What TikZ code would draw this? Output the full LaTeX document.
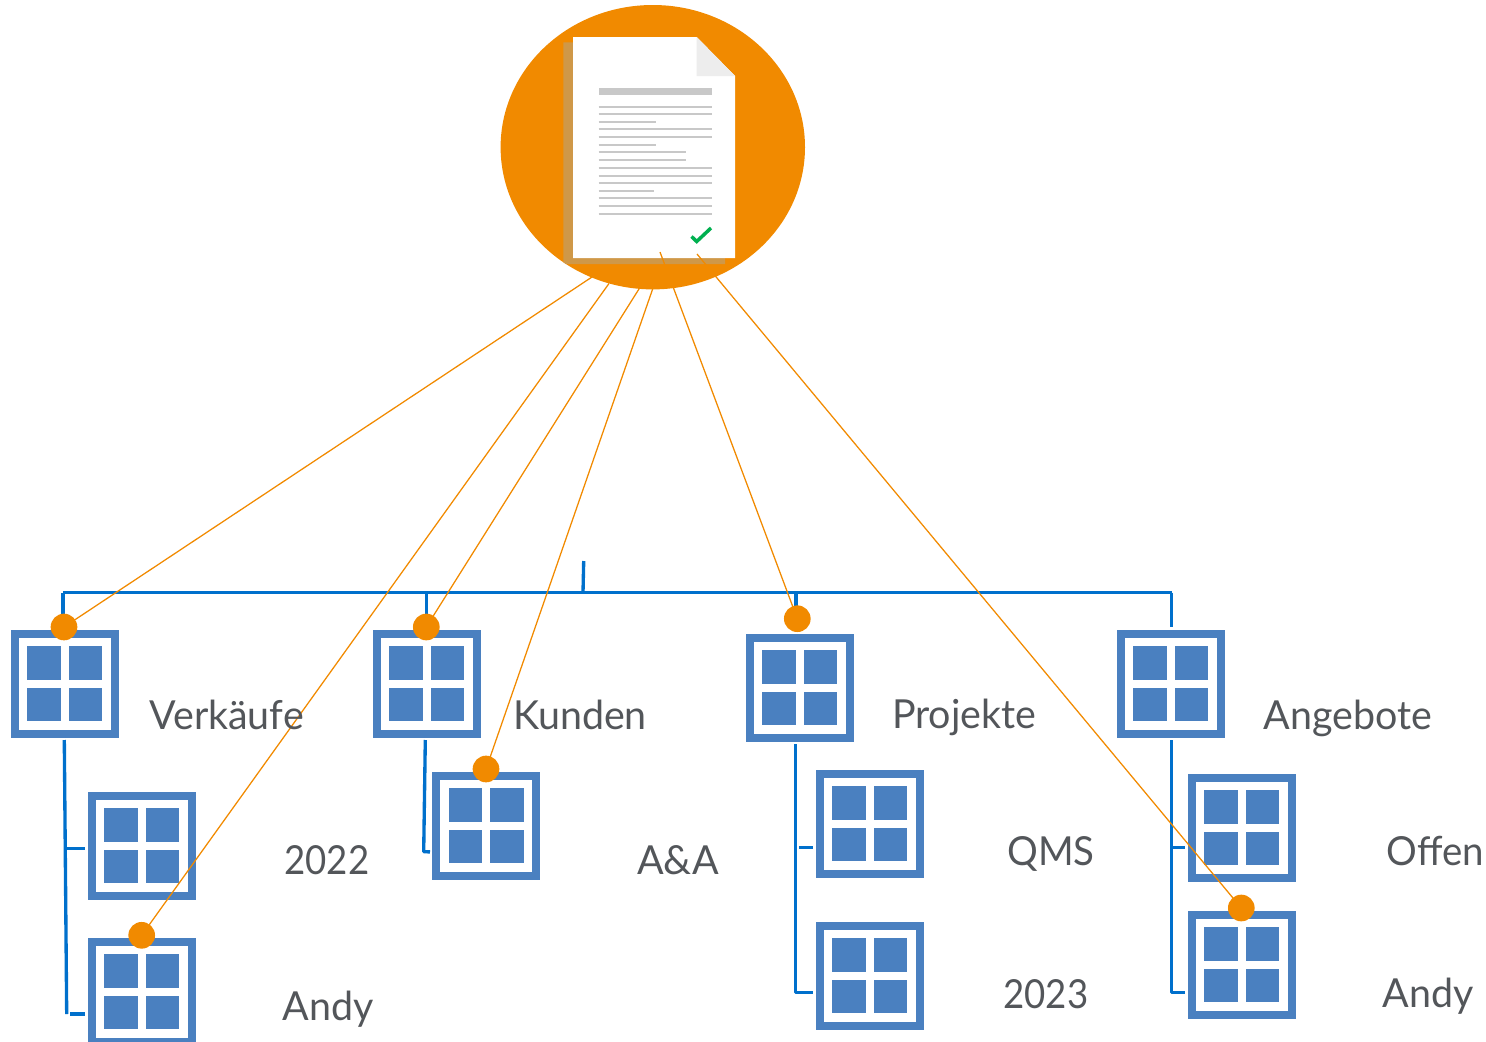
\documentclass[tikz,border=0pt]{standalone}
\usepackage{fontspec}
\usetikzlibrary{shapes.geometric}
\setmainfont[FakeStretch=0.985]{Lato}
\newfontfamily\digitfont[FakeStretch=0.915]{Lato}
\newfontfamily\narrowfont[FakeStretch=0.96]{Lato}
\definecolor{circ}{HTML}{F18A00}
\definecolor{tanband}{HTML}{CF9848}
\definecolor{iconblue}{HTML}{4A80C0}
\definecolor{treeblue}{HTML}{0070CC}
\definecolor{txt}{HTML}{53565A}
\definecolor{docline}{HTML}{C8C8C8}
\definecolor{foldgrey}{HTML}{EDEDED}
\definecolor{okgreen}{HTML}{00B050}
\tikzset{
  iconbox/.style={draw=iconblue,fill=white,line width=6pt,minimum size=75pt,inner sep=0pt,outer sep=0pt,shape=rectangle},
  dotnode/.style={circle,fill=circ,minimum size=20pt,inner sep=0pt,outer sep=0pt},
  lbl/.style={anchor=base west,inner sep=0pt,outer sep=0pt,text=txt,font=\fontsize{30pt}{32pt}\selectfont},
  treeline/.style={draw=treeblue,line width=2.5pt,line join=round},
  linkline/.style={draw=circ,line width=0.95pt},
  docrule/.style={draw=docline,line width=1.7pt}
}
\newcommand{\iconat}[3]{%
  \node[iconbox] (#1) at (#2+54,#3+54) {};
  \foreach \sx in {-37.3,4} \foreach \sy in {-37.3,4}
    \fill[iconblue] ([shift={(\sx,\sy)}]#1.center) rectangle ([shift={(\sx+33.3,\sy+33.3)}]#1.center);
}
\begin{document}
\begin{tikzpicture}[x=0.75pt,y=-0.75pt]
\clip (0,0) rectangle (1486,1042);
% document emblem
\node[ellipse,fill=circ,minimum width=228.3pt,minimum height=213.3pt,inner sep=0pt,outer sep=0pt] (hub) at (652.8,147.2) {};
\begin{scope}
  \clip (652.8,147.2) ellipse [x radius=152.2,y radius=142.2];
  \fill[tanband] (563.3,42.3) -- (686.7,42.3) -- (725,81.3) -- (725,264) -- (563.3,264) -- cycle;
\end{scope}
\fill[white] (573,37) -- (696.7,37) -- (735,76) -- (735,258) -- (573,258) -- cycle;
\fill[foldgrey] (696.7,37) -- (735,76) -- (696.7,76) -- cycle;
\fill[docline] (598.7,87.7) rectangle (711.7,95);
\foreach \ly/\lx in {106.7/712,114/712,122/655.7,129.3/712,137/712,145/655.7,152.3/686,160.3/686,168/712,175.7/712,183/712,190.7/654,198.3/712,206/712,214.3/712}
  \draw[docrule] (598.7,\ly) -- (\lx,\ly);
\draw[okgreen,line width=2.6pt] (691.5,236.5) -- (696.7,241.5) -- (711,228);
% tables
\iconat{verk}{10.7}{629.5}
\iconat{y22}{87.7}{791.5}
\iconat{andyA}{87.7}{937.7}
\iconat{kund}{372.7}{629.7}
\iconat{aa}{432.2}{771.7}
\iconat{proj}{745.5}{633.7}
\iconat{qms}{815.5}{769.7}
\iconat{y23}{815.5}{921.7}
\iconat{ang}{1116.7}{629.7}
\iconat{off}{1187.7}{773.7}
\iconat{andyB}{1187.7}{910.7}
% tree coordinates
\coordinate (busL) at (63,592.7);
\coordinate (busR) at (1171.7,592.7);
\coordinate (stubT) at (583.7,561);
\coordinate (stubB) at (583,592.7);
\coordinate (kundB) at (426.5,592.7);
\coordinate (projB) at (796,592.7);
\coordinate (dropL) at (63,615);
\coordinate (dropK) at (426.5,615);
\coordinate (dropP) at (796,610);
\coordinate (dropA) at (1171.7,627);
\coordinate (vT) at (64.3,740);
\coordinate (vB) at (66.7,1014);
\coordinate (v1a) at (66.7,848.5);
\coordinate (v1b) at (85,848.5);
\coordinate (v2a) at (70,1014);
\coordinate (v2b) at (85,1014);
\coordinate (kT) at (425.3,740);
\coordinate (kB) at (423.7,851.7);
\coordinate (kE) at (430,851.9);
\coordinate (pT) at (795.7,744);
\coordinate (pB) at (795.7,992.3);
\coordinate (pE) at (812.7,992.3);
\coordinate (p1a) at (799.3,847.3);
\coordinate (p1b) at (813,847.3);
\coordinate (aT) at (1171.7,740);
\coordinate (aB) at (1171.7,992.3);
\coordinate (aE) at (1185,992.3);
\coordinate (a1a) at (1173.3,847.3);
\coordinate (a1b) at (1185,847.3);
\draw[treeline] (busL) -- (busR);
\draw[treeline] (stubT) -- (stubB);
\draw[treeline] (busL) -- (dropL);
\draw[treeline] (kundB) -- (dropK);
\draw[treeline] (projB) -- (dropP);
\draw[treeline] (busR) -- (dropA);
\draw[treeline] (vT) -- (vB);
\draw[treeline] (v1a) -- (v1b);
\draw[treeline] (v2a) -- (v2b);
\draw[treeline] (kT) -- (kB) -- (kE);
\draw[treeline] (pT) -- (pB) -- (pE);
\draw[treeline] (p1a) -- (p1b);
\draw[treeline] (aT) -- (aB) -- (aE);
\draw[treeline] (a1a) -- (a1b);
% markers
\node[dotnode] (dV) at (64,627) {};
\node[dotnode] (dK) at (426.3,627) {};
\node[dotnode] (dP) at (797.3,618.7) {};
\node[dotnode] (dA) at (141.7,935.3) {};
\node[dotnode] (dAA) at (486,769) {};
\node[dotnode] (dB) at (1241.3,908) {};
% links
\coordinate (s1) at (592,277);
\coordinate (s2) at (609,283.5);
\coordinate (s3) at (639.6,288);
\coordinate (s4) at (653,288);
\coordinate (s5) at (660,252);
\coordinate (s6) at (697,254);
\draw[linkline] (s1) -- (dV.center);
\draw[linkline] (s2) -- (dA.center);
\draw[linkline] (s3) -- (dK.center);
\draw[linkline] (s4) -- (dAA.center);
\draw[linkline] (s5) -- (dP.center);
\draw[linkline] (s6) -- (dB.center);
% labels
\node[lbl] (l1) at (149.5,729.7) {Verkäufe};
\node[lbl] (l2) at (284.5,874.7) {\digitfont 2022};
\node[lbl] (l3) at (282.5,1020.7) {Andy};
\node[lbl] (l4) at (513,729.7) {Kunden};
\node[lbl] (l5) at (637,874.7) {A\&A};
\node[lbl] (l6) at (892,728.7) {Projekte};
\node[lbl] (l7) at (1007.5,865.7) {\narrowfont QMS};
\node[lbl] (l8) at (1003.5,1008.4) {\digitfont 2023};
\node[lbl] (l9) at (1263.5,729.7) {Angebote};
\node[lbl] (l10) at (1386.5,865.7) {\narrowfont Offen};
\node[lbl] (l11) at (1382.5,1007.7) {Andy};
\end{tikzpicture}
\end{document}
